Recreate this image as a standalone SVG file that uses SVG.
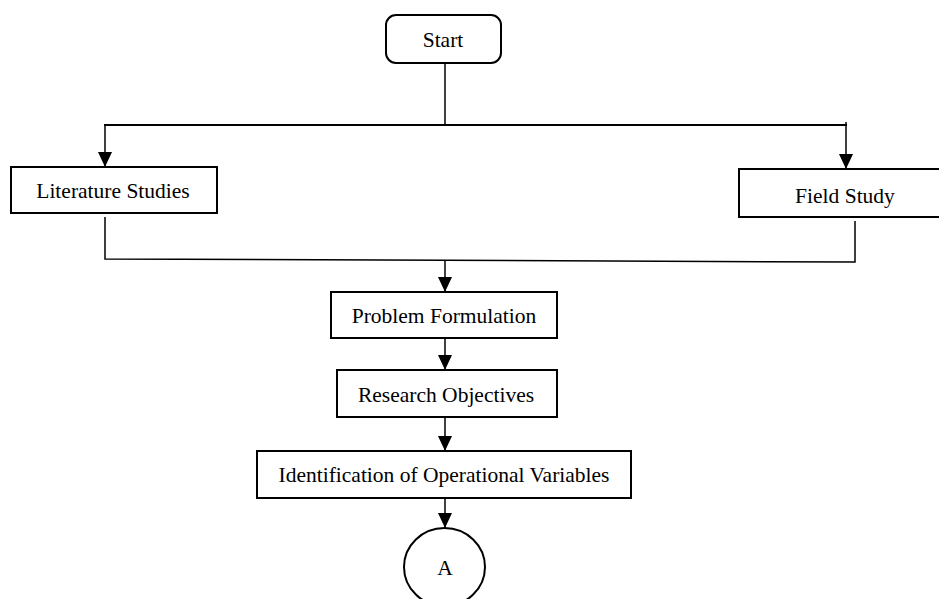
<svg xmlns="http://www.w3.org/2000/svg" width="939" height="599" viewBox="0 0 939 599">
<style>
.box{fill:#fff;stroke:#000;stroke-width:2}
.ln{fill:none;stroke:#000;stroke-width:1.5}
.top{fill:none;stroke:#000;stroke-width:2}
text{font-family:"Liberation Serif","Times New Roman",serif;font-size:21.5px;fill:#000;text-anchor:middle}
</style>
<defs>
<marker id="ah" viewBox="0 0 15 14" refX="15" refY="7" markerWidth="15" markerHeight="14" markerUnits="userSpaceOnUse" orient="auto">
<path d="M0,0 L15,7 L0,14 z" fill="#000"/>
</marker>
</defs>
<rect width="939" height="599" fill="#fff"/>
<g id="connectors">
<line class="ln" x1="445" y1="63" x2="445" y2="125"/>
<line class="top" x1="104" y1="125" x2="847" y2="125"/>
<line class="ln" x1="105" y1="125" x2="105" y2="167" marker-end="url(#ah)"/>
<line class="ln" x1="846" y1="122" x2="846" y2="169" marker-end="url(#ah)"/>
<polyline class="ln" points="105,217 105,259 855,262 855,221"/>
<line class="ln" x1="445" y1="260" x2="445" y2="292" marker-end="url(#ah)"/>
<line class="ln" x1="445" y1="338" x2="445" y2="370" marker-end="url(#ah)"/>
<line class="ln" x1="445" y1="417" x2="445" y2="451" marker-end="url(#ah)"/>
<line class="ln" x1="445" y1="498" x2="445" y2="528" marker-end="url(#ah)"/>
</g>
<g id="start">
<rect class="box" x="386" y="15" width="115" height="48" rx="10"/>
<text x="443" y="47">Start</text>
</g>
<g id="literature">
<rect class="box" x="11" y="167" width="206" height="46"/>
<text x="113" y="198">Literature Studies</text>
</g>
<g id="field">
<rect class="box" x="739" y="169" width="212" height="48"/>
<text x="845" y="203">Field Study</text>
</g>
<g id="problem">
<rect class="box" x="331" y="292" width="226" height="46"/>
<text x="444" y="323">Problem Formulation</text>
</g>
<g id="objectives">
<rect class="box" x="337" y="370" width="220" height="47"/>
<text x="446" y="402">Research Objectives</text>
</g>
<g id="variables">
<rect class="box" x="257" y="451" width="374" height="47"/>
<text x="444" y="482">Identification of Operational Variables</text>
</g>
<g id="connectorA">
<ellipse class="box" cx="444.5" cy="567" rx="40.5" ry="39"/>
<text x="445" y="575">A</text>
</g>
</svg>
